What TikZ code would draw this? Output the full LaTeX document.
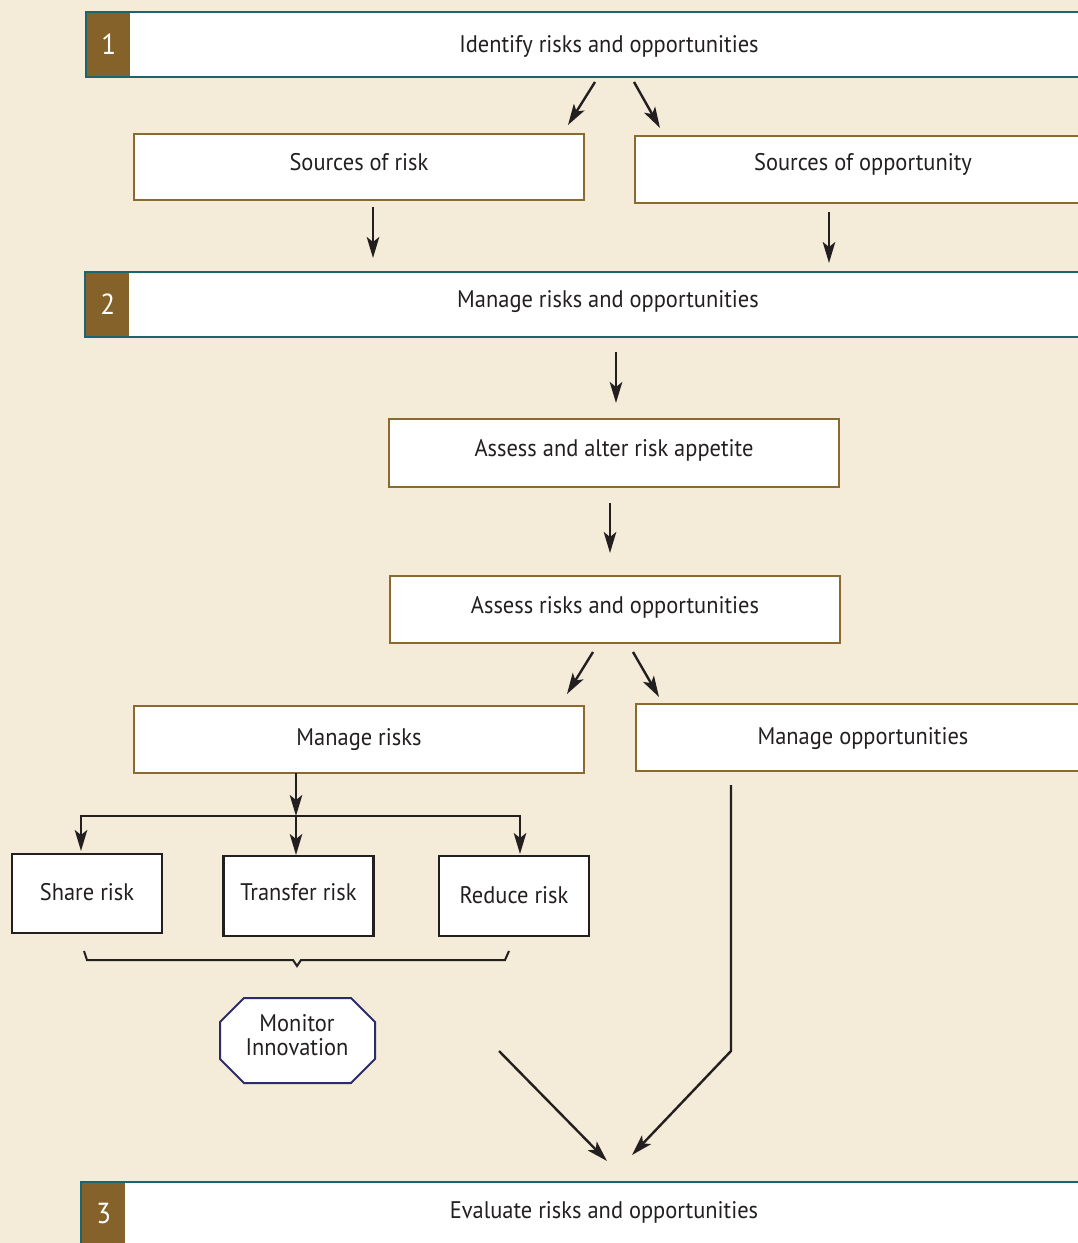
\documentclass[tikz,border=0pt]{standalone}
\usepackage{fontspec}
\setmainfont{PT Sans}[FakeStretch=0.935]
\usetikzlibrary{arrows.meta}
\definecolor{bgc}{HTML}{F4EBD8}
\definecolor{bandteal}{HTML}{1A6570}
\definecolor{numbrown}{HTML}{846229}
\definecolor{boxbrown}{HTML}{8B6A30}
\definecolor{inkc}{HTML}{231F20}
\definecolor{octblue}{HTML}{2B2D6B}
\tikzset{
  band/.style={draw=bandteal, line width=2.5pt, fill=white, outer sep=0pt, inner sep=0pt, anchor=north west},
  numbox/.style={fill=numbrown, text=white, outer sep=0pt, inner sep=0pt, anchor=north west, minimum width=43pt,
    font=\fontsize{29}{29}\selectfont},
  txt/.style={font=\fontsize{24}{24}\selectfont, text=inkc, inner sep=0pt, anchor=base},
  rbox/.style={draw=boxbrown, line width=2.5pt, fill=white, outer sep=0pt, inner sep=0pt,
    font=\fontsize{24}{24}\selectfont, text=inkc, text height=16pt, text depth=9pt},
  sbox/.style={draw=inkc, line width=2.3pt, fill=white, outer sep=0pt, inner sep=0pt,
    minimum width=150pt, minimum height=80pt,
    font=\fontsize{24}{24}\selectfont, text=inkc, text height=14pt, text depth=0pt},
  arr/.style={draw=inkc, line width=2.4pt, -{Stealth[length=21pt,width=12.5pt,inset=5pt]}},
  plain/.style={draw=inkc, line width=2pt},
}
\begin{document}
\begin{tikzpicture}[x=1pt,y=-1pt]
\fill[bgc] (0,0) rectangle (1078,1243);
\useasboundingbox (0,0) rectangle (1078,1243);
\clip (0,0) rectangle (1078,1243);

% bands
\node[band, minimum width=1030pt, minimum height=65pt] (b1) at (86,12) {};
\node[numbox, minimum height=62.5pt] (n1) at (87.25,13.25) {1};
\node[txt] (t1) at (609,52) {Identify risks and opportunities};

\node[band, minimum width=1030pt, minimum height=65pt] (b2) at (85,272) {};
\node[numbox, minimum height=62.5pt] (n2) at (86.25,273.25) {2};
\node[txt] (t2) at (608,307) {Manage risks and opportunities};

\node[band, minimum width=1030pt, minimum height=100pt] (b3) at (81,1182) {};
\node[numbox, minimum height=60pt] (n3) at (82.25,1183.25) {3};
\node[txt] (t3) at (604,1218) {Evaluate risks and opportunities};

% boxes
\node[rbox, minimum width=450pt, minimum height=66pt] (sr) at (359,167) {Sources of risk};
\node[rbox, minimum width=456pt, minimum height=67pt, text depth=15pt] (so) at (863,169.5) {Sources of opportunity};
\node[rbox, minimum width=450pt, minimum height=68pt] (aa) at (614,453) {Assess and alter risk appetite};
\node[rbox, minimum width=450pt, minimum height=67pt] (ar) at (615,609.5) {Assess risks and opportunities};
\node[rbox, minimum width=450pt, minimum height=67pt, text height=20pt] (mr) at (359,739.5) {Manage risks};
\node[rbox, minimum width=454pt, minimum height=67pt, text height=22pt] (mo) at (863,737.5) {Manage opportunities};

\node[sbox, minimum height=79pt] (sh) at (87,893.5) {Share risk};
\node[sbox, text depth=6pt] (tr) at (298.5,896) {Transfer risk};
\node[sbox] (re) at (514,896) {Reduce risk};

% octagon
\coordinate (monc) at (297.5,1040.5);
\filldraw[draw=octblue, fill=white, line width=2pt, line join=miter]
  (monc) ++(-53.5,-42.5) -- ++(107,0) -- ++(24,24) -- ++(0,37) -- ++(-24,24)
  -- ++(-107,0) -- ++(-24,-24) -- ++(0,-37) -- cycle;
\node[txt, anchor=center, align=center, font=\fontsize{24}{24}\selectfont] (mon) at (297,1035) {Monitor\\Innovation};

% brace
\draw[plain, line join=miter] (84,951) -- (87,960) -- (293,960) -- (297,966) -- (301,960) -- (505,960) -- (509,951);

% arrow coordinates
\coordinate (a1s) at (595,82);  \coordinate (a1e) at (568,125);
\coordinate (a2s) at (634,82);  \coordinate (a2e) at (660,128);
\coordinate (a3s) at (373,207); \coordinate (a3e) at (373,258);
\coordinate (a4s) at (829,212); \coordinate (a4e) at (829,263);
\coordinate (a5s) at (616,352); \coordinate (a5e) at (616,403);
\coordinate (a6s) at (610,503); \coordinate (a6e) at (610,553);
\coordinate (a7s) at (593,652); \coordinate (a7e) at (567,694);
\coordinate (a8s) at (633,652); \coordinate (a8e) at (659,697);
\coordinate (j) at (296,816);
\coordinate (shin) at (81,851);
\coordinate (trin) at (296,855);
\coordinate (rein) at (520,854);
\coordinate (f1s) at (499,1051); \coordinate (f1e) at (607,1161);
\coordinate (f2s) at (731,785);  \coordinate (f2m) at (731,1051); \coordinate (f2e) at (632,1155);

\draw[arr] (a1s) -- (a1e);
\draw[arr] (a2s) -- (a2e);
\draw[arr] (a3s) -- (a3e);
\draw[arr] (a4s) -- (a4e);
\draw[arr] (a5s) -- (a5e);
\draw[arr] (a6s) -- (a6e);
\draw[arr] (a7s) -- (a7e);
\draw[arr] (a8s) -- (a8e);

\draw[arr] (mr.south -| j) -- (j);
\draw[arr, line join=miter] (j) -| (shin);
\draw[arr, line join=miter] (j) -| (rein);
\draw[arr] (j) -- (trin);

\draw[arr] (f1s) -- (f1e);
\draw[arr, line join=miter] (f2s) -- (f2m) -- (f2e);
\end{tikzpicture}
\end{document}
